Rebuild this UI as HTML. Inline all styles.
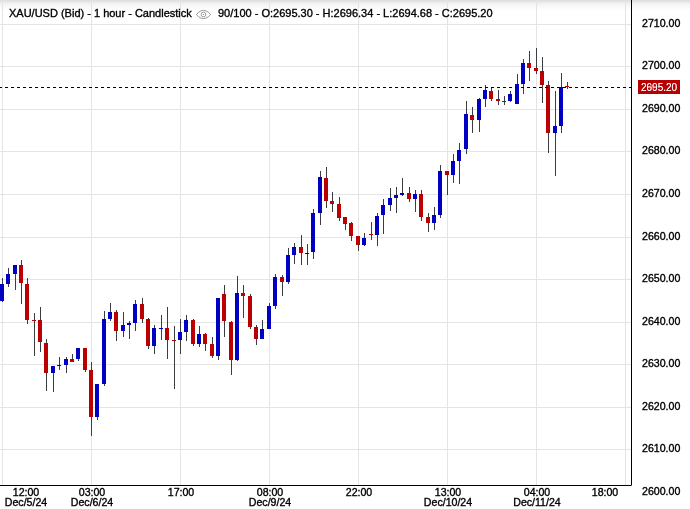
<!DOCTYPE html>
<html><head><meta charset="utf-8"><title>XAU/USD</title>
<style>
html,body{margin:0;padding:0;background:#fff;}
body{width:690px;height:509px;position:relative;overflow:hidden;font-family:"Liberation Sans",sans-serif;font-size:11px;color:#000;-webkit-text-stroke:0.35px #000;}
#shade{position:absolute;left:0;top:0;width:690px;height:11px;background:linear-gradient(to bottom,#dcdbdc 0,#e2e2e2 1px,#e9e9e9 2px,#eeeeee 3px,#f2f2f2 4px,#f6f6f6 5px,#f9f9f9 7px,#fcfcfc 9px,#fff 11px);}
svg{position:absolute;left:0;top:0;}
.t{position:absolute;white-space:nowrap;line-height:13px;will-change:transform;}
.yl{position:absolute;left:641.5px;width:40px;line-height:13px;height:13px;white-space:nowrap;font-size:10.6px;will-change:transform;}
.xl{position:absolute;width:80px;text-align:center;top:487.4px;line-height:10px;white-space:nowrap;font-size:10.6px;will-change:transform;}
#tag,#tag2{position:absolute;left:640.7px;top:81.2px;width:42px;height:14px;line-height:14px;text-align:left;color:#fff;font-size:10px;-webkit-text-stroke:0;will-change:transform;}
</style></head><body>
<div id="shade"></div>
<svg width="690" height="509" viewBox="0 0 690 509" shape-rendering="crispEdges">
<rect x="0" y="24" width="631" height="1" fill="#e4e4e4"/>
<rect x="0" y="66" width="631" height="1" fill="#e4e4e4"/>
<rect x="0" y="109" width="631" height="1" fill="#e4e4e4"/>
<rect x="0" y="151" width="631" height="1" fill="#e4e4e4"/>
<rect x="0" y="194" width="631" height="1" fill="#e4e4e4"/>
<rect x="0" y="237" width="631" height="1" fill="#e4e4e4"/>
<rect x="0" y="279" width="631" height="1" fill="#e4e4e4"/>
<rect x="0" y="322" width="631" height="1" fill="#e4e4e4"/>
<rect x="0" y="364" width="631" height="1" fill="#e4e4e4"/>
<rect x="0" y="407" width="631" height="1" fill="#e4e4e4"/>
<rect x="0" y="449" width="631" height="1" fill="#e4e4e4"/>
<rect x="2" y="0" width="1" height="485" fill="#e4e4e4"/>
<rect x="91" y="0" width="1" height="485" fill="#e4e4e4"/>
<rect x="180" y="0" width="1" height="485" fill="#e4e4e4"/>
<rect x="269" y="0" width="1" height="485" fill="#e4e4e4"/>
<rect x="358" y="0" width="1" height="485" fill="#e4e4e4"/>
<rect x="447" y="0" width="1" height="485" fill="#e4e4e4"/>
<rect x="536" y="0" width="1" height="485" fill="#e4e4e4"/>
<rect x="625" y="0" width="1" height="485" fill="#e4e4e4"/>
<rect x="2" y="278" width="1" height="24" fill="#383e41"/>
<rect x="0" y="284" width="4" height="17" fill="#0000c2"/>
<rect x="8" y="268" width="1" height="19" fill="#383e41"/>
<rect x="6" y="274" width="4" height="10" fill="#0000c2"/>
<rect x="15" y="265" width="1" height="25" fill="#383e41"/>
<rect x="13" y="265" width="4" height="9" fill="#0000c2"/>
<rect x="21" y="260" width="1" height="44" fill="#383e41"/>
<rect x="19" y="265" width="4" height="18" fill="#ba0000"/>
<rect x="27" y="278" width="1" height="46" fill="#383e41"/>
<rect x="25" y="284" width="4" height="36" fill="#ba0000"/>
<rect x="34" y="313" width="1" height="43" fill="#383e41"/>
<rect x="32" y="320" width="4" height="1" fill="#ba0000"/>
<rect x="40" y="307" width="1" height="45" fill="#383e41"/>
<rect x="38" y="320" width="4" height="22" fill="#ba0000"/>
<rect x="46" y="339" width="1" height="52" fill="#383e41"/>
<rect x="44" y="343" width="4" height="30" fill="#ba0000"/>
<rect x="53" y="366" width="1" height="26" fill="#383e41"/>
<rect x="51" y="366" width="4" height="7" fill="#0000c2"/>
<rect x="59" y="357" width="1" height="13" fill="#383e41"/>
<rect x="57" y="365" width="4" height="1" fill="#0000c2"/>
<rect x="66" y="357" width="1" height="16" fill="#383e41"/>
<rect x="64" y="359" width="4" height="6" fill="#0000c2"/>
<rect x="72" y="354" width="1" height="8" fill="#383e41"/>
<rect x="70" y="359" width="4" height="3" fill="#ba0000"/>
<rect x="78" y="348" width="1" height="13" fill="#383e41"/>
<rect x="76" y="348" width="4" height="11" fill="#0000c2"/>
<rect x="85" y="348" width="1" height="24" fill="#383e41"/>
<rect x="83" y="348" width="4" height="22" fill="#ba0000"/>
<rect x="91" y="362" width="1" height="74" fill="#383e41"/>
<rect x="89" y="370" width="4" height="47" fill="#ba0000"/>
<rect x="97" y="384" width="1" height="36" fill="#383e41"/>
<rect x="95" y="384" width="4" height="33" fill="#0000c2"/>
<rect x="104" y="311" width="1" height="75" fill="#383e41"/>
<rect x="102" y="319" width="4" height="65" fill="#0000c2"/>
<rect x="110" y="303" width="1" height="18" fill="#383e41"/>
<rect x="108" y="312" width="4" height="7" fill="#0000c2"/>
<rect x="116" y="310" width="1" height="31" fill="#383e41"/>
<rect x="114" y="312" width="4" height="19" fill="#ba0000"/>
<rect x="123" y="312" width="1" height="25" fill="#383e41"/>
<rect x="121" y="325" width="4" height="6" fill="#0000c2"/>
<rect x="129" y="321" width="1" height="18" fill="#383e41"/>
<rect x="127" y="323" width="4" height="2" fill="#0000c2"/>
<rect x="135" y="300" width="1" height="31" fill="#383e41"/>
<rect x="133" y="304" width="4" height="19" fill="#0000c2"/>
<rect x="142" y="298" width="1" height="25" fill="#383e41"/>
<rect x="140" y="304" width="4" height="15" fill="#ba0000"/>
<rect x="148" y="318" width="1" height="31" fill="#383e41"/>
<rect x="146" y="319" width="4" height="27" fill="#ba0000"/>
<rect x="154" y="325" width="1" height="29" fill="#383e41"/>
<rect x="152" y="328" width="4" height="18" fill="#0000c2"/>
<rect x="161" y="315" width="1" height="25" fill="#383e41"/>
<rect x="159" y="328" width="4" height="1" fill="#0000c2"/>
<rect x="167" y="307" width="1" height="52" fill="#383e41"/>
<rect x="165" y="328" width="4" height="12" fill="#ba0000"/>
<rect x="174" y="326" width="1" height="63" fill="#383e41"/>
<rect x="172" y="340" width="4" height="1" fill="#ba0000"/>
<rect x="180" y="319" width="1" height="35" fill="#383e41"/>
<rect x="178" y="332" width="4" height="8" fill="#0000c2"/>
<rect x="186" y="315" width="1" height="26" fill="#383e41"/>
<rect x="184" y="320" width="4" height="12" fill="#0000c2"/>
<rect x="193" y="319" width="1" height="27" fill="#383e41"/>
<rect x="191" y="320" width="4" height="24" fill="#ba0000"/>
<rect x="199" y="326" width="1" height="21" fill="#383e41"/>
<rect x="197" y="334" width="4" height="10" fill="#0000c2"/>
<rect x="205" y="333" width="1" height="18" fill="#383e41"/>
<rect x="203" y="334" width="4" height="10" fill="#ba0000"/>
<rect x="212" y="337" width="1" height="21" fill="#383e41"/>
<rect x="210" y="344" width="4" height="12" fill="#ba0000"/>
<rect x="218" y="298" width="1" height="62" fill="#383e41"/>
<rect x="216" y="298" width="4" height="58" fill="#0000c2"/>
<rect x="224" y="285" width="1" height="52" fill="#383e41"/>
<rect x="222" y="294" width="4" height="27" fill="#ba0000"/>
<rect x="231" y="321" width="1" height="54" fill="#383e41"/>
<rect x="229" y="322" width="4" height="38" fill="#ba0000"/>
<rect x="237" y="276" width="1" height="85" fill="#383e41"/>
<rect x="235" y="293" width="4" height="67" fill="#0000c2"/>
<rect x="243" y="285" width="1" height="33" fill="#383e41"/>
<rect x="241" y="293" width="4" height="3" fill="#ba0000"/>
<rect x="250" y="294" width="1" height="35" fill="#383e41"/>
<rect x="248" y="296" width="4" height="31" fill="#ba0000"/>
<rect x="256" y="325" width="1" height="20" fill="#383e41"/>
<rect x="254" y="327" width="4" height="12" fill="#ba0000"/>
<rect x="262" y="320" width="1" height="19" fill="#383e41"/>
<rect x="260" y="329" width="4" height="10" fill="#0000c2"/>
<rect x="269" y="303" width="1" height="26" fill="#383e41"/>
<rect x="267" y="306" width="4" height="23" fill="#0000c2"/>
<rect x="275" y="274" width="1" height="35" fill="#383e41"/>
<rect x="273" y="277" width="4" height="29" fill="#0000c2"/>
<rect x="282" y="275" width="1" height="21" fill="#383e41"/>
<rect x="280" y="277" width="4" height="5" fill="#ba0000"/>
<rect x="288" y="248" width="1" height="36" fill="#383e41"/>
<rect x="286" y="255" width="4" height="27" fill="#0000c2"/>
<rect x="294" y="243" width="1" height="21" fill="#383e41"/>
<rect x="292" y="247" width="4" height="8" fill="#0000c2"/>
<rect x="301" y="235" width="1" height="30" fill="#383e41"/>
<rect x="299" y="247" width="4" height="6" fill="#ba0000"/>
<rect x="307" y="244" width="1" height="21" fill="#383e41"/>
<rect x="305" y="253" width="4" height="1" fill="#0000c2"/>
<rect x="313" y="209" width="1" height="50" fill="#383e41"/>
<rect x="311" y="213" width="4" height="39" fill="#0000c2"/>
<rect x="320" y="171" width="1" height="54" fill="#383e41"/>
<rect x="318" y="177" width="4" height="36" fill="#0000c2"/>
<rect x="326" y="167" width="1" height="41" fill="#383e41"/>
<rect x="324" y="178" width="4" height="23" fill="#ba0000"/>
<rect x="332" y="192" width="1" height="20" fill="#383e41"/>
<rect x="330" y="201" width="4" height="3" fill="#ba0000"/>
<rect x="339" y="197" width="1" height="24" fill="#383e41"/>
<rect x="337" y="204" width="4" height="14" fill="#ba0000"/>
<rect x="345" y="217" width="1" height="13" fill="#383e41"/>
<rect x="343" y="217" width="4" height="7" fill="#ba0000"/>
<rect x="351" y="222" width="1" height="19" fill="#383e41"/>
<rect x="349" y="223" width="4" height="13" fill="#ba0000"/>
<rect x="358" y="236" width="1" height="15" fill="#383e41"/>
<rect x="356" y="236" width="4" height="9" fill="#ba0000"/>
<rect x="364" y="233" width="1" height="13" fill="#383e41"/>
<rect x="362" y="238" width="4" height="7" fill="#0000c2"/>
<rect x="371" y="222" width="1" height="18" fill="#383e41"/>
<rect x="369" y="234" width="4" height="1" fill="#ba0000"/>
<rect x="377" y="213" width="1" height="33" fill="#383e41"/>
<rect x="375" y="216" width="4" height="19" fill="#0000c2"/>
<rect x="383" y="199" width="1" height="35" fill="#383e41"/>
<rect x="381" y="205" width="4" height="10" fill="#0000c2"/>
<rect x="390" y="188" width="1" height="23" fill="#383e41"/>
<rect x="388" y="198" width="4" height="7" fill="#0000c2"/>
<rect x="396" y="187" width="1" height="26" fill="#383e41"/>
<rect x="394" y="195" width="4" height="3" fill="#0000c2"/>
<rect x="402" y="178" width="1" height="18" fill="#383e41"/>
<rect x="400" y="193" width="4" height="2" fill="#0000c2"/>
<rect x="409" y="187" width="1" height="15" fill="#383e41"/>
<rect x="407" y="193" width="4" height="6" fill="#ba0000"/>
<rect x="415" y="190" width="1" height="22" fill="#383e41"/>
<rect x="413" y="194" width="4" height="5" fill="#0000c2"/>
<rect x="421" y="190" width="1" height="31" fill="#383e41"/>
<rect x="419" y="194" width="4" height="23" fill="#ba0000"/>
<rect x="428" y="213" width="1" height="19" fill="#383e41"/>
<rect x="426" y="217" width="4" height="6" fill="#ba0000"/>
<rect x="434" y="207" width="1" height="23" fill="#383e41"/>
<rect x="432" y="215" width="4" height="8" fill="#0000c2"/>
<rect x="440" y="165" width="1" height="53" fill="#383e41"/>
<rect x="438" y="171" width="4" height="44" fill="#0000c2"/>
<rect x="447" y="171" width="1" height="24" fill="#383e41"/>
<rect x="445" y="171" width="4" height="4" fill="#ba0000"/>
<rect x="453" y="154" width="1" height="29" fill="#383e41"/>
<rect x="451" y="161" width="4" height="14" fill="#0000c2"/>
<rect x="459" y="143" width="1" height="41" fill="#383e41"/>
<rect x="457" y="150" width="4" height="11" fill="#0000c2"/>
<rect x="466" y="101" width="1" height="53" fill="#383e41"/>
<rect x="464" y="114" width="4" height="35" fill="#0000c2"/>
<rect x="472" y="107" width="1" height="26" fill="#383e41"/>
<rect x="470" y="115" width="4" height="5" fill="#ba0000"/>
<rect x="479" y="98" width="1" height="34" fill="#383e41"/>
<rect x="477" y="99" width="4" height="21" fill="#0000c2"/>
<rect x="485" y="85" width="1" height="22" fill="#383e41"/>
<rect x="483" y="90" width="4" height="9" fill="#0000c2"/>
<rect x="491" y="87" width="1" height="14" fill="#383e41"/>
<rect x="489" y="91" width="4" height="8" fill="#ba0000"/>
<rect x="498" y="90" width="1" height="15" fill="#383e41"/>
<rect x="496" y="99" width="4" height="2" fill="#ba0000"/>
<rect x="504" y="96" width="1" height="9" fill="#383e41"/>
<rect x="502" y="101" width="4" height="1" fill="#ba0000"/>
<rect x="510" y="91" width="1" height="11" fill="#383e41"/>
<rect x="508" y="94" width="4" height="7" fill="#0000c2"/>
<rect x="517" y="74" width="1" height="30" fill="#383e41"/>
<rect x="515" y="84" width="4" height="20" fill="#0000c2"/>
<rect x="523" y="59" width="1" height="35" fill="#383e41"/>
<rect x="521" y="63" width="4" height="21" fill="#0000c2"/>
<rect x="529" y="51" width="1" height="30" fill="#383e41"/>
<rect x="527" y="63" width="4" height="5" fill="#ba0000"/>
<rect x="536" y="48" width="1" height="26" fill="#383e41"/>
<rect x="534" y="68" width="4" height="3" fill="#ba0000"/>
<rect x="542" y="57" width="1" height="46" fill="#383e41"/>
<rect x="540" y="71" width="4" height="14" fill="#ba0000"/>
<rect x="548" y="81" width="1" height="72" fill="#383e41"/>
<rect x="546" y="85" width="4" height="48" fill="#ba0000"/>
<rect x="555" y="91" width="1" height="85" fill="#383e41"/>
<rect x="553" y="126" width="4" height="7" fill="#0000c2"/>
<rect x="561" y="73" width="1" height="60" fill="#383e41"/>
<rect x="559" y="87" width="4" height="39" fill="#0000c2"/>
<rect x="567" y="82" width="1" height="7" fill="#383e41"/>
<rect x="565" y="86" width="4" height="1" fill="#ba0000"/>
<line x1="-1" y1="87.5" x2="631" y2="87.5" stroke="#000" stroke-width="1" stroke-dasharray="3 3"/>
<rect x="631" y="0" width="1" height="485" fill="#000"/>
<rect x="0" y="485" width="631" height="1" fill="#000"/>
<rect x="631" y="485" width="1" height="1" fill="#666"/>
<rect x="638" y="80" width="42" height="14" fill="#b80000"/>
</svg>
<div class="t" id="title" style="left:9px;top:7px">XAU/USD (Bid) - 1 hour - Candlestick</div>
<svg style="left:195px;top:9px" width="17" height="11" viewBox="0 0 17 11" shape-rendering="geometricPrecision"><path d="M1.3 5.5 C4 2.6 6 1.4 8.5 1.4 C11 1.4 13 2.6 15.7 5.5 C13 8.4 11 9.6 8.5 9.6 C6 9.6 4 8.4 1.3 5.5 Z" fill="none" stroke="#858585" stroke-width="0.85"/><circle cx="8.5" cy="5.5" r="2.35" fill="none" stroke="#858585" stroke-width="0.85"/><rect x="8" y="5" width="1" height="1" fill="#858585"/></svg>
<div class="t" id="title2" style="left:218px;top:7px">90/100 - O:2695.30 - H:2696.34 - L:2694.68 - C:2695.20</div>
<div class="yl" style="top:16.7px">2710.00</div><div class="yl" style="top:58.7px">2700.00</div><div class="yl" style="top:101.7px">2690.00</div><div class="yl" style="top:143.7px">2680.00</div><div class="yl" style="top:186.7px">2670.00</div><div class="yl" style="top:229.7px">2660.00</div><div class="yl" style="top:271.7px">2650.00</div><div class="yl" style="top:314.7px">2640.00</div><div class="yl" style="top:356.7px">2630.00</div><div class="yl" style="top:399.7px">2620.00</div><div class="yl" style="top:441.7px">2610.00</div><div class="yl" style="top:484.7px">2600.00</div>
<div class="xl" style="left:-14.4px">12:00<br>Dec/5/24</div><div class="xl" style="left:51.6px">03:00<br>Dec/6/24</div><div class="xl" style="left:140.6px">17:00<br></div><div class="xl" style="left:229.6px">08:00<br>Dec/9/24</div><div class="xl" style="left:318.6px">22:00<br></div><div class="xl" style="left:407.6px">13:00<br>Dec/10/24</div><div class="xl" style="left:496.6px">04:00<br>Dec/11/24</div><div class="xl" style="left:564.6px">18:00<br></div>
<div id="tag">2695.20</div><div id="tag2" style="opacity:0.55">2965.20</div>
</body></html>
